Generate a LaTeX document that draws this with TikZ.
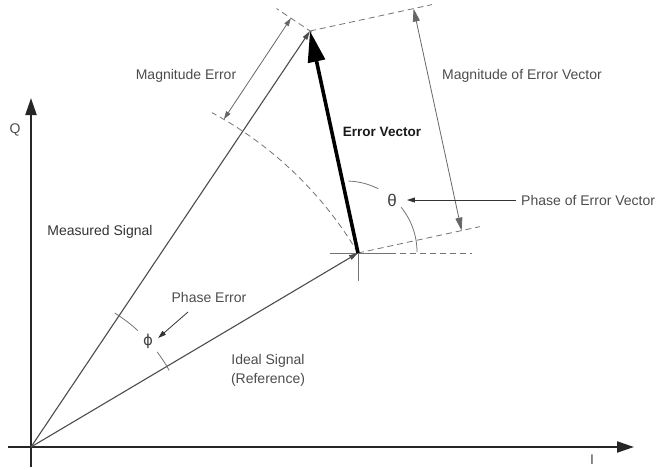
\documentclass[tikz,border=0pt]{standalone}
\usepackage{fontspec}
\setmainfont{Liberation Sans}
\newfontfamily\dvsans{DejaVu Sans}
\usetikzlibrary{arrows.meta,calc}
\begin{document}
\begin{tikzpicture}[x=1pt,y=-1pt,
  lbl/.style={text=black!70,font=\fontsize{14}{19}\selectfont,inner sep=0pt},
  axisline/.style={line width=2.2pt,draw=black!85,-{Triangle[length=17pt,width=11pt]}},
  sigline/.style={line width=1.1pt,draw=black!70,-{Triangle[length=9pt,width=5pt]}},
  thinline/.style={line width=0.8pt,draw=black!55},
  dashline/.style={line width=0.8pt,draw=black!55,dash pattern=on 6pt off 4pt},
  dimline/.style={line width=0.8pt,draw=black!60,{Triangle[length=13pt,width=7pt]}-{Triangle[length=13pt,width=7pt]}},
  smalldim/.style={line width=0.8pt,draw=black!60,{Triangle[length=8pt,width=5pt]}-{Triangle[length=8pt,width=5pt]}},
  pointer/.style={line width=0.8pt,draw=black!80,-{Triangle[length=8pt,width=5pt]}}]
\useasboundingbox (0,0) rectangle (659,469);

% key points
\coordinate (O) at (31,447);
\coordinate (P) at (358,253);
\coordinate (M) at (310,31);
\coordinate (Qtip) at (31,98);
\coordinate (Qbot) at (31,467);
\coordinate (Ileft) at (8,447);
\coordinate (Itip) at (634,447);

% axes
\draw[axisline] (Qbot) -- (Qtip);
\draw[axisline] (Ileft) -- (Itip);
\node[lbl] (qlab) at (15,130) {Q};
\node[lbl] (ilab) at (592,460) {I};

% crosshair at P
\coordinate (Hl) at (330,253);
\coordinate (Hm) at (390,253);
\coordinate (Hr) at (472,253);
\coordinate (Vb) at (358,281);
\draw[thinline] (Hl) -- (Hm);
\draw[dashline] (Hm) -- (Hr);
\draw[thinline] (P) -- (Vb);

% arc of ideal-signal radius
\draw[dashline] (P) arc[start angle=-30.68, end angle=-61.6, radius=380];

% perpendicular dashed lines to the error vector
\coordinate (Me) at ($(M)+(122,-26.4)$);
\coordinate (Pe) at ($(P)+(122,-26.4)$);
\draw[dashline] (M) -- (Me);
\draw[dashline] (P) -- (Pe);

% tick at M for magnitude error
\coordinate (Mt) at ($(M)+(-33.5,-22.5)$);
\draw[dashline] ($(M)+(2,1.3)$) -- (Mt);

% signals
\draw[sigline] (O) -- (M);
\draw[sigline] (O) -- (P);

% error vector
\draw[line width=3.6pt,draw=black,-{Triangle[length=31pt,width=17pt]}] (P) -- (M);

% magnitude error dimension
\coordinate (A1) at (223.9,119.2);
\coordinate (A2) at (290.9,18.2);
\draw[smalldim] (A1) -- (A2);
\node[lbl] (magerr) at (186,76) {Magnitude Error};

% magnitude of error vector dimension
\coordinate (D1) at ($(M)+(103.6,-22.4)$);
\coordinate (D2) at ($(P)+(103.6,-22.4)$);
\draw[dimline] (D1) -- (D2);
\node[lbl] (magev) at (522,76) {Magnitude of Error Vector};

% error vector label
\node[lbl,text=black!90,font=\fontsize{13.5}{16}\selectfont\bfseries] (evlab) at (382,132) {Error Vector};

% theta
\node[lbl,text=black!75,font=\fontsize{17}{20}\selectfont] (theta) at (392,200) {θ};
\draw[thinline] (346,252) ++(-88:71) arc[start angle=-88, end angle=-63, radius=71];
\draw[thinline] (346,252) ++(-39:71) arc[start angle=-39, end angle=0, radius=71];
\node[lbl,anchor=west] (phev) at (521,200) {Phase of Error Vector};
\draw[pointer] (phev.west) ++(-5,0) -- ($(theta.east)+(10,0)$);

% measured signal label
\node[lbl,text=black!80] (meas) at (100,232) {Measured Signal};

% phase error
\node[lbl,text=black!75,font=\fontsize{15}{20}\selectfont\dvsans] (phi) at (148,341) {ϕ};
\draw[thinline] (O) ++(-58:158) arc[start angle=-58, end angle=-47.5, radius=158];
\draw[thinline] (O) ++(-37:158) arc[start angle=-37, end angle=-29, radius=158];
\node[lbl] (pherr) at (209,297) {Phase Error};
\coordinate (pa) at (188,312);
\draw[pointer] (pa) -- ($(phi.east)+(5,-3)$);

% ideal signal label
\node[lbl,align=center] (ideal) at (268,370) {Ideal Signal\\(Reference)};
\end{tikzpicture}
\end{document}
